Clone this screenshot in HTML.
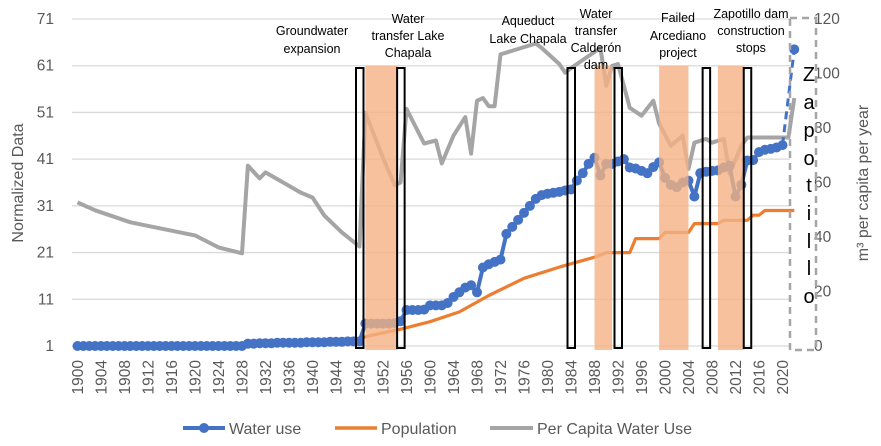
<!DOCTYPE html>
<html><head><meta charset="utf-8"><style>
html,body{margin:0;padding:0;background:#fff;}
svg{display:block;font-family:"Liberation Sans",sans-serif;}
</style></head><body>
<svg id="chart" width="881" height="446" viewBox="0 0 881 446"></svg>
<script>
const NS="http://www.w3.org/2000/svg";
// ---- data ----
const waterYearStart=1900;
const waterUse=[1,1,1,1,1,1,1,1,1,1,1,1,1,1,1,1,1,1,1,1,1,1,1,1,1,1,1,1,1,
1.5,1.5,1.6,1.6,1.6,1.7,1.7,1.7,1.7,1.7,1.8,1.8,1.8,1.8,1.9,1.9,1.9,2,2,2,
5.8,5.8,5.8,5.8,5.8,5.9,6.3,
8.7,8.7,8.7,8.8,9.7,9.7,9.7,10.2,
11.5,12.5,13.5,14,12.5,17.8,18.5,19,19.5,
25,26.5,28,29.5,31,32.5,33.3,33.6,33.8,34,34.3,34.5,
36.4,38,40,41.3,37.5,40,40,40.5,41,39.2,39,38.5,38,39.3,40.3,37,
35.5,35,36,36.4,33,38,38.3,38.5,38.6,39.2,39.6,33,35.5,40.7,40.8,42.5,43,43.2,43.5,44];
const projYears=[2020,2022];
const projValues=[44,64.5];
const popYears=[1900,1910,1920,1930,1940,1948,1950,1955,1960,1965,1970,1976,1982,1988,1990,1994,1995,1999,2000,2004,2005,2009,2010,2014,2015,2016,2017,2022];
const popValues=[1,1.2,1.4,1.6,2.0,2.6,3.3,4.6,6.2,8.3,11.8,15.5,17.9,20,21,21,24,24,25.3,25.3,27.2,27.2,27.9,27.9,29,29,30,30];
const pcYears=[1900,1903,1909,1914,1920,1924,1928,1929,1931,1932,1938,1940,1942,1945,1948,1949,1952,1954,1955,1956,1959,1961,1962,1964,1966,1967,1968,1969,1970,1971,1972,1978,1979,1982,1983,1984,1989,1990,1991,1992,1994,1996,1998,1999,2001,2003,2004,2005,2007,2008,2010,2011,2013,2014,2021,2022];
const pcValues=[52.7,49.8,45.4,43.2,40.6,36.2,34,66.2,61.5,63.7,56.3,54.5,47.9,41.7,36.5,85.6,69,59,60,87,74.3,75.4,67,77.2,84,70.6,90,91,88,88,107,111,109.4,103.5,100.3,102,109.4,95.5,102.8,103.5,87.4,84.5,90,81.6,73.5,77.2,65,74.6,76,74.6,76,63.3,73.5,76.5,76.5,91];
const leftTicks=[1,11,21,31,41,51,61,71];
const rightTicks=[0,20,40,60,80,100,120];
const xTickYears=[1900,1904,1908,1912,1916,1920,1924,1928,1932,1936,1940,1944,1948,1952,1956,1960,1964,1968,1972,1976,1980,1984,1988,1992,1996,2000,2004,2008,2012,2016,2020];
const bandStarts=[1949,1988,1999,2009];
const bandEnds=[1954.5,1991,2004,2013.5];
const boxYears=[1948,1955,1984,1992,2007,2014];

// ---- axes ----
const X=y=>77.5+(y-1900)*5.875;
const YL=v=>346-(v-1)*(327/70);
const YR=v=>346-v*(327/120);
const svg=document.getElementById('chart');
function el(t,a,p){const e=document.createElementNS(NS,t);for(const k in a)e.setAttribute(k,a[k]);(p||svg).appendChild(e);return e;}

leftTicks.forEach(v=>{
  const g=el('line',{x1:72,x2:790,y1:YL(v),y2:YL(v),stroke:'#d9d9d9','stroke-width':1.3});
  
  
  const t=el('text',{x:54,y:YL(v)+5,'text-anchor':'end','font-size':15.5,fill:'#595959'});
  t.textContent=v;
  
  
});
rightTicks.forEach(v=>{
  const t=el('text',{x:814,y:YR(v)+5,'font-size':15.5,fill:'#595959'});
  t.textContent=v;
  
  
});
xTickYears.forEach(y=>{
  const t=el('text',{x:0,y:0,'text-anchor':'end','font-size':15.5,fill:'#595959',transform:`translate(${X(y)+5.5},360) rotate(-90)`});
  t.textContent=y;
  
  
});

function pts(xs,vs,f){return xs.map((x,i)=>X(x).toFixed(1)+','+f(vs[i]).toFixed(1)).join(' ');}
const pc=el('polyline',{points:pts(pcYears,pcValues,YR),fill:'none',stroke:'#A5A5A5','stroke-width':4,'stroke-linejoin':'round'});


const wYears=waterUse.map((v,i)=>waterYearStart+i);
const pop=el('polyline',{points:pts(popYears,popValues,YL),fill:'none',stroke:'#ED7D31','stroke-width':3.2,'stroke-linejoin':'round'});


const wl=el('polyline',{points:pts(wYears,waterUse,YL),fill:'none',stroke:'#4472C4','stroke-width':4,'stroke-linejoin':'round'});


waterUse.forEach((v,i)=>{
  const c=el('circle',{cx:X(wYears[i]),cy:YL(v),r:5,fill:'#4472C4'});
  
  
});
const pj=el('polyline',{points:pts(projYears,projValues,YL),fill:'none',stroke:'#4472C4','stroke-width':3,'stroke-dasharray':'8,5'});


const pjc=el('circle',{cx:X(projYears[1]),cy:YL(projValues[1]),r:5,fill:'#4472C4'});



bandStarts.forEach((s,i)=>{
  const r=el('rect',{x:X(s),y:66,width:X(bandEnds[i])-X(s),height:284,fill:'#F4B183','fill-opacity':0.8});
  
  
});
boxYears.forEach(y=>{
  const r=el('rect',{x:X(y)-3.5,y:68,width:7.5,height:280,fill:'none',stroke:'#000','stroke-width':2});
  
  
});
</script>
<svg width="881" height="446" style="position:absolute;left:0;top:0">
 <g font-family="Liberation Sans, sans-serif" font-size="12.5" fill="#000" text-anchor="middle">
  <text x="312" y="35"><tspan x="312">Groundwater</tspan><tspan x="312" dy="18">expansion</tspan></text>
  <text x="408" y="23"><tspan x="408">Water</tspan><tspan x="408" dy="17">transfer Lake</tspan><tspan x="408" dy="17">Chapala</tspan></text>
  <text x="528" y="25"><tspan x="528">Aqueduct</tspan><tspan x="528" dy="18">Lake Chapala</tspan></text>
  <text x="596" y="18"><tspan x="596">Water</tspan><tspan x="596" dy="17">transfer</tspan><tspan x="596" dy="17">Calderón</tspan><tspan x="596" dy="17">dam</tspan></text>
  <text x="678" y="22"><tspan x="678">Failed</tspan><tspan x="678" dy="18">Arcediano</tspan><tspan x="678" dy="17">project</tspan></text>
  <text x="751" y="18"><tspan x="751">Zapotillo dam</tspan><tspan x="751" dy="17">construction</tspan><tspan x="751" dy="17">stops</tspan></text>
 </g>
 <rect x="790" y="18" width="26" height="332" fill="none" stroke="#A5A5A5" stroke-width="2.5" stroke-dasharray="7,5"/>
 <g font-family="Liberation Sans, sans-serif" font-size="20" fill="#000" text-anchor="middle">
  <text x="809" y="81">Z</text><text x="809" y="109">a</text><text x="809" y="137">p</text><text x="809" y="165">o</text><text x="809" y="192">t</text><text x="809" y="220">i</text><text x="809" y="248">l</text><text x="809" y="275">l</text><text x="809" y="303">o</text>
 </g>
 <text transform="translate(23,183) rotate(-90)" text-anchor="middle" font-family="Liberation Sans, sans-serif" font-size="16" fill="#595959">Normalized Data</text>
 <text transform="translate(868,183) rotate(-90)" text-anchor="middle" font-family="Liberation Sans, sans-serif" font-size="16" fill="#595959">m³ per capita per year</text>
 <g font-family="Liberation Sans, sans-serif" font-size="16" fill="#595959">
  <g><line x1="183" y1="428" x2="225" y2="428" stroke="#4472C4" stroke-width="4"/><circle cx="204" cy="428" r="5" fill="#4472C4"/><text x="229" y="434">Water use</text></g>
  <g><line x1="335" y1="428" x2="377" y2="428" stroke="#ED7D31" stroke-width="3.5"/><text x="381" y="434">Population</text></g>
  <g><line x1="490" y1="428" x2="533" y2="428" stroke="#A5A5A5" stroke-width="4"/><text x="537" y="434">Per Capita Water Use</text></g>
 </g>
</svg>
</body></html>
